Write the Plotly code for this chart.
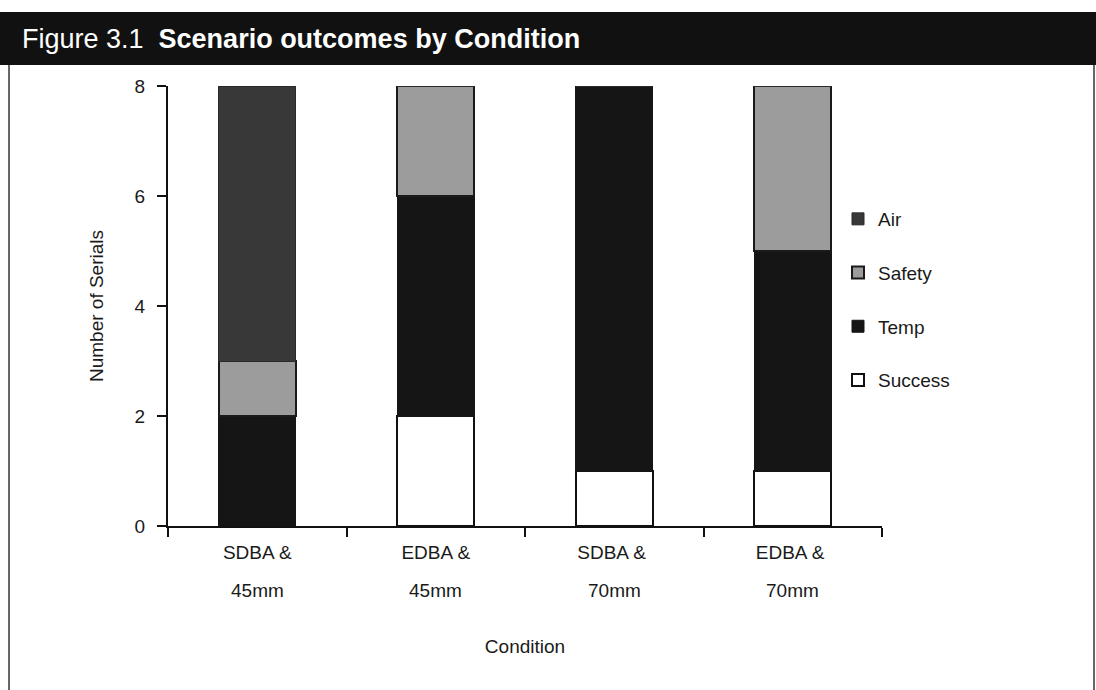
import plotly.graph_objects as go

# Scenario outcomes per test condition (number of serials)
conditions = ["SDBA &amp;", "EDBA &amp;", "SDBA &amp; ", "EDBA &amp; "]
sizes = ["45mm", "45mm", "70mm", "70mm"]
success = [0, 2, 1, 1]
temp = [2, 4, 7, 4]
safety = [1, 2, 0, 3]
air = [5, 0, 0, 0]

FONT = "Liberation Sans"
INK = "#1a1a1a"
W, H = 1096, 690
L, R, T, B = 168, 214, 86, 164
PW, PH = W - L - R, H - T - B


def px(x):
    return (x - L) / PW


def py(y):
    return (H - B - y) / PH


fig = go.Figure()
series = [
    ("Success", success, "#ffffff", "#111111", 2, 4),
    ("Temp", temp, "#151515", "#151515", 1, 3),
    ("Safety", safety, "#9c9c9c", "#1a1a1a", 2, 2),
    ("Air", air, "#383838", "#2a2a2a", 1, 1),
]
for name, vals, fill, edge, lw, rank in series:
    fig.add_trace(go.Bar(
        x=conditions, y=vals, name=name, legendgroup=name, legendrank=rank,
        marker=dict(color=fill, line=dict(color=edge, width=lw)),
    ))

# second line of each category label
annotations = [
    dict(x=c, y=py(590), xref="x", yref="paper", text=s, showarrow=False,
         xanchor="center", yanchor="middle", font=dict(size=19, color=INK))
    for c, s in zip(conditions, sizes)
]

fig.update_layout(
    width=W, height=H,
    barmode="stack", bargap=0.57,
    paper_bgcolor="white", plot_bgcolor="white",
    margin=dict(l=L, r=R, t=T, b=B),
    font=dict(family=FONT, size=19, color=INK),
    title=dict(
        text="Figure 3.1  <b>Scenario outcomes by Condition</b>",
        x=22 / W, xanchor="left", y=1 - 39 / H, yanchor="middle",
        font=dict(family=FONT, size=27, color="white"),
    ),
    legend=dict(
        x=px(838), xanchor="left", y=py(200), yanchor="top",
        traceorder="grouped", tracegroupgap=26,
        font=dict(size=19, color=INK), bgcolor="rgba(0,0,0,0)",
        itemwidth=30,
    ),
    xaxis=dict(
        showline=True, linecolor="#111111", linewidth=2,
        ticks="outside", tickson="boundaries", ticklen=9,
        tickwidth=2, tickcolor="#111111", ticklabelstandoff=8,
        tickfont=dict(size=19),
        title=dict(text="Condition", standoff=78, font=dict(size=19)),
        showgrid=False,
    ),
    yaxis=dict(
        range=[0, 8], tickvals=[0, 2, 4, 6, 8],
        showline=True, linecolor="#111111", linewidth=2,
        ticks="outside", ticklen=9, tickwidth=2, tickcolor="#111111",
        ticklabelstandoff=8,
        showgrid=False, zeroline=False,
        tickfont=dict(size=19),
        title=dict(text="Number of Serials", standoff=26, font=dict(size=19)),
    ),
    annotations=annotations,
    shapes=[
        # black heading band
        dict(type="rect", xref="paper", yref="paper",
             x0=px(0), x1=px(W), y0=py(65), y1=py(12),
             fillcolor="#111111", line=dict(width=0), layer="below"),
        # frame side rules
        dict(type="line", xref="paper", yref="paper",
             x0=px(9), x1=px(9), y0=py(65), y1=py(H),
             line=dict(color="#333333", width=1.5)),
        dict(type="line", xref="paper", yref="paper",
             x0=px(1094), x1=px(1094), y0=py(65), y1=py(H),
             line=dict(color="#333333", width=1.5)),
    ],
)

fig.write_html("out.html")
